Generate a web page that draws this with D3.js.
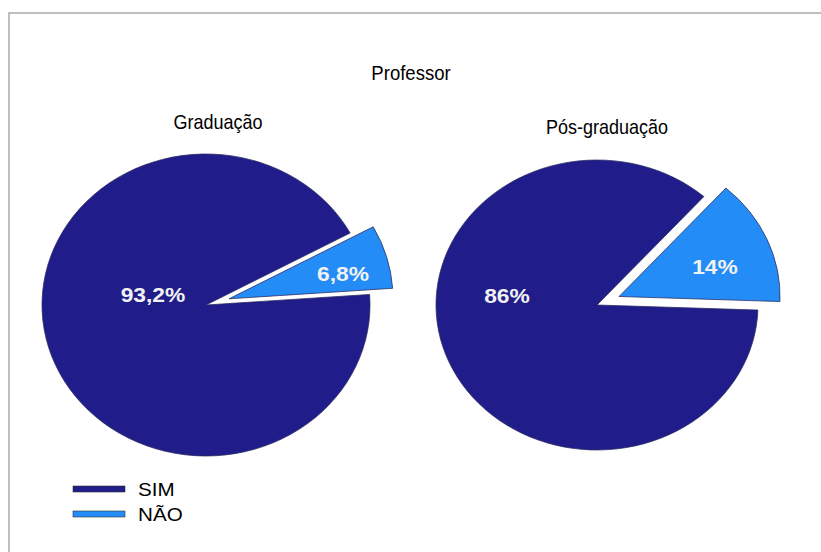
<html>
<head>
<meta charset="utf-8">
<script src="https://d3js.org/d3.v7.min.js"></script>
<style>
body {margin: 0; background: #fff;}
text {font-family: "Liberation Sans", Arial, sans-serif;}
</style>
</head>
<body>
<svg id="chart" width="821" height="552"></svg>
<script>
// data
var categories = ["SIM", "NÃO"];
var graduacao = [93.2, 6.8];
var posGraduacao = [86, 14];
var graduacaoLabels = ["93,2%", "6,8%"];
var posGraduacaoLabels = ["86%", "14%"];
var pieTitles = ["Graduação", "Pós-graduação"];
var colors = ["#201d8b", "#248cf6"];

// the picture is a little wider than tall, value text gets the same stretch
var stretch = 1.086;

var svg = d3.select("#chart");

// frame (only top and left edges fall inside the picture)
svg.append("rect")
    .attr("x", 9).attr("y", 13)
    .attr("width", 900).attr("height", 700)
    .attr("fill", "none")
    .attr("stroke", "#aaa")
    .attr("stroke-width", 1.5);

function label(parent, x, y, size, sx, sy) {
    return parent.append("g")
        .attr("transform", "translate(" + x + "," + y + ") scale(" + (sx || 1) + "," + (sy || 1) + ")")
        .append("text")
        .style("font-size", size + "px");
}

label(svg, 411, 80, 18, 1.03, 1.08).attr("text-anchor", "middle").text("Professor");

var colorscale = d3.scaleOrdinal().domain(categories).range(colors);

// layout of each pie: center, radii, rotation of the first slice (degrees), label centers
var pies = [
    {values: graduacao, labels: graduacaoLabels, title: pieTitles[0],
     cx: 206, cy: 305, rx: 164, ry: 151, start: 86, explode: 24, titleX: 12, titleY: 129,
     labelPos: [[-53, -11], [137, -32]]},
    {values: posGraduacao, labels: posGraduacaoLabels, title: pieTitles[1],
     cx: 597, cy: 305, rx: 161, ry: 145, start: 92, explode: 24, titleX: 10, titleY: 134,
     labelPos: [[-90, -10], [118, -39]]}
];

pies.forEach(function(p) {
    var rad = Math.PI / 180;
    var pie = d3.pie().sort(null)
        .value(function(d) {return d.value;})
        .startAngle(p.start * rad)
        .endAngle((p.start + 360) * rad);
    var arc = d3.arc().innerRadius(0).outerRadius(p.rx);
    var arcs = pie(p.values.map(function(v, i) {return {key: categories[i], value: v};}));

    var g = svg.append("g")
        .attr("transform", "translate(" + p.cx + "," + p.cy + ")");

    label(g, p.titleX, p.titleY - p.cy, 18, 1, 1.08).attr("text-anchor", "middle").text(p.title);

    var slices = g.append("g")
        .attr("transform", "scale(1," + (p.ry / p.rx) + ")");

    slices.selectAll("path")
        .data(arcs)
        .enter()
        .append("path")
            .attr("d", arc)
            .attr("transform", function(d, i) {
                if (i == 0) return null;
                var mid = (d.startAngle + d.endAngle) / 2;
                return "translate(" + (Math.sin(mid) * p.explode) + "," + (-Math.cos(mid) * p.explode) + ")";
            })
            .style("fill", function(d) {return colorscale(d.data.key);})
            .style("stroke", "#2a2a60")
            .style("stroke-width", 0.8);

    arcs.forEach(function(d, i) {
        label(g, p.labelPos[i][0], p.labelPos[i][1] + 7.5, 21, stretch, 1)
            .attr("text-anchor", "middle")
            .style("font-weight", "bold")
            .style("fill", "#f2f2f2")
            .text(p.labels[i]);
    });
});

// legend
var legend = svg.append("g").attr("transform", "translate(73,486)");
categories.forEach(function(c, i) {
    legend.append("rect")
        .attr("x", 0).attr("y", i * 25)
        .attr("width", 52).attr("height", 6)
        .style("fill", colorscale(c))
        .style("stroke", "#333")
        .style("stroke-width", 0.6);
    label(legend, 65, i * 25 + 10, 19, stretch, 1).text(c);
});
</script>
</body>
</html>
